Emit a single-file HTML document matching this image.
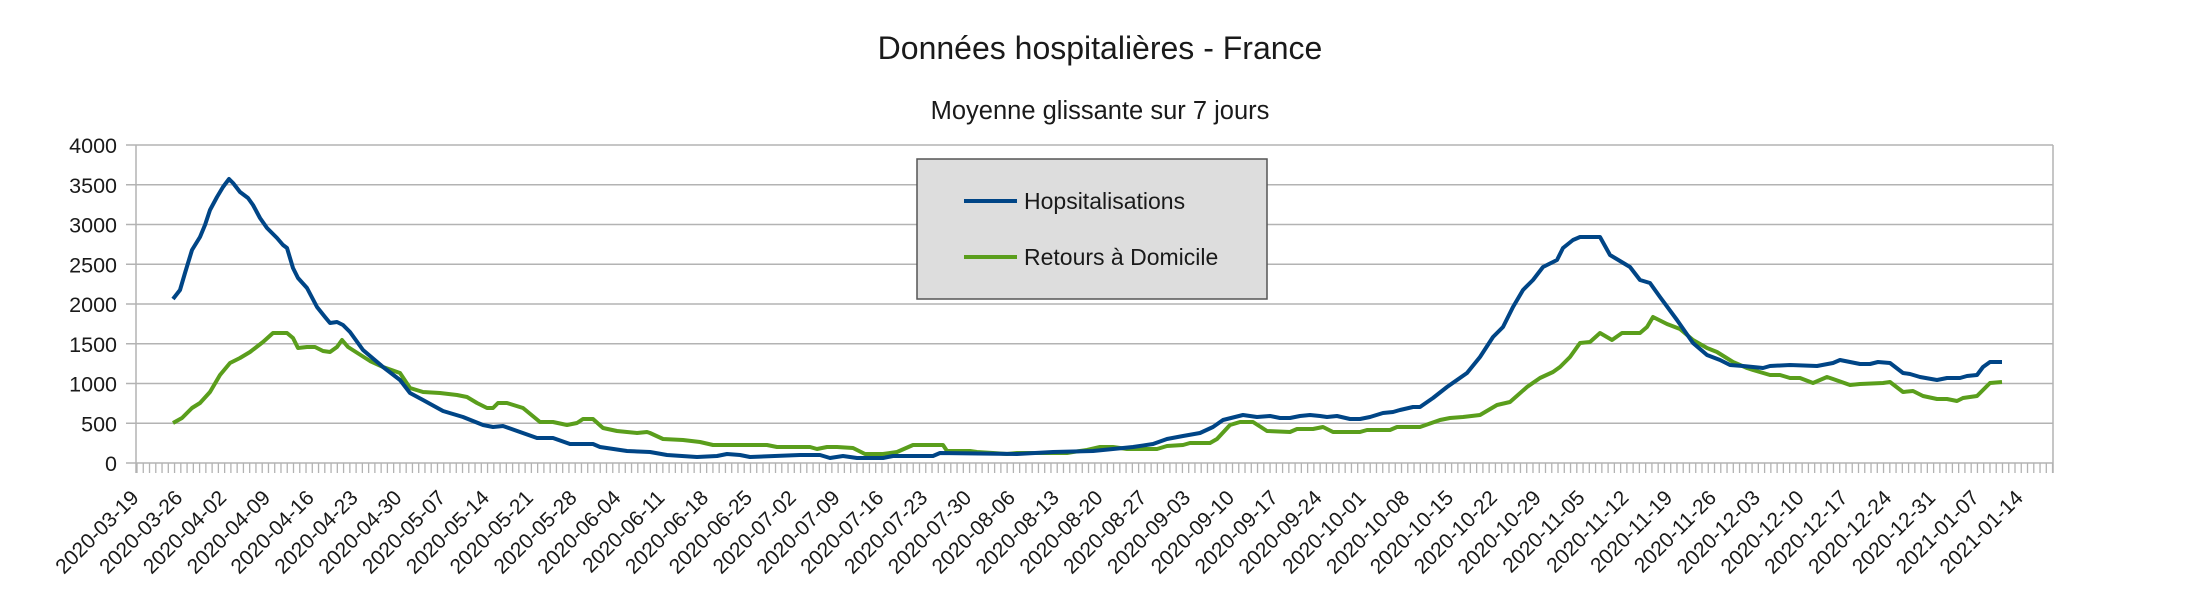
<!DOCTYPE html>
<html><head><meta charset="utf-8"><style>
html,body{margin:0;padding:0;background:#fff;}
svg{display:block;font-family:"Liberation Sans",sans-serif;}
</style></head><body>
<svg id="s" width="2200" height="605" viewBox="0 0 2200 605" xmlns="http://www.w3.org/2000/svg">
<rect width="2200" height="605" fill="#fff"/>
<text x="1100" y="59" font-size="32" text-anchor="middle" fill="#1a1a1a">Données hospitalières - France</text>
<text x="1100" y="119" font-size="25.5" text-anchor="middle" fill="#1a1a1a">Moyenne glissante sur 7 jours</text>
<g id="grid" stroke="#b3b3b3" stroke-width="1.5"></g>
<g id="ylab" font-size="21.5" fill="#1a1a1a" text-anchor="end"></g>
<g id="xt" stroke="#b3b3b3" stroke-width="1.3"></g>
<g id="xlab" font-size="21" fill="#1a1a1a" text-anchor="end"></g>
<polyline fill="none" stroke="#5a9e1c" stroke-width="4" stroke-linejoin="round" points="173,423 182,418 192,408 200,403 210,392 220,375 230,363 240,358 250,352 263,342 273,333 287,333 293,338 298,348 307,347 315,347 323,351 330,352 337,347 342,340 348,347 370,361 383,367 400,373 410,388 423,392 440,393 457,395 467,397 477,403 487,408 493,408 498,403 507,403 523,408 540,422 553,422 567,425 577,423 583,419 593,419 603,428 617,431 627,432 637,433 647,432 650,433 663,439 683,440 700,442 713,445 767,445 777,447 810,447 817,449 827,447 837,447 853,448 865,454 883,454 897,452 913,445 943,445 947,451 970,451 977,452 993,453 1007,454 1017,453 1053,453 1067,453 1073,452 1087,450 1100,447 1113,447 1127,449 1157,449 1167,446 1183,445 1190,443 1210,443 1217,439 1230,425 1240,422 1253,422 1267,431 1290,432 1297,429 1313,429 1323,427 1333,432 1360,432 1367,430 1390,430 1397,427 1420,427 1440,420 1450,418 1463,417 1480,415 1497,405 1510,402 1527,387 1540,378 1553,372 1560,367 1570,357 1580,343 1590,342 1600,333 1612,340 1622,333 1640,333 1647,327 1653,317 1667,324 1680,329 1693,340 1707,348 1717,352 1733,362 1747,368 1753,370 1770,375 1780,375 1790,378 1800,378 1813,383 1827,377 1833,379 1850,385 1860,384 1883,383 1890,382 1903,392 1913,391 1923,396 1937,399 1947,399 1957,401 1963,398 1977,396 1990,383 2002,382"/>
<polyline fill="none" stroke="#004586" stroke-width="4" stroke-linejoin="round" points="173,299 180,290 185,273 192,250 200,237 205,225 210,210 217,197 223,187 229,179 233,183 240,192 248,198 253,205 260,218 267,228 277,238 283,245 287,248 293,268 298,278 307,288 317,307 325,317 330,323 337,322 343,325 350,332 363,350 383,367 400,380 410,393 423,400 443,411 463,417 483,425 493,427 503,426 520,432 537,438 553,438 570,444 593,444 600,447 627,451 650,452 667,455 697,457 717,456 727,454 740,455 750,457 800,455 820,455 830,458 843,456 857,458 883,458 893,456 933,456 940,453 1017,454 1053,452 1093,451 1133,447 1153,444 1167,439 1183,436 1200,433 1213,427 1223,420 1243,415 1257,417 1270,416 1280,418 1290,418 1300,416 1310,415 1320,416 1327,417 1337,416 1350,419 1360,419 1370,417 1383,413 1393,412 1400,410 1413,407 1420,407 1433,398 1447,387 1467,373 1480,357 1493,337 1503,327 1513,307 1523,290 1533,280 1543,267 1557,260 1563,248 1573,240 1580,237 1600,237 1610,255 1620,261 1630,267 1640,280 1650,283 1660,297 1677,320 1693,343 1707,355 1720,360 1730,365 1743,366 1763,368 1770,366 1790,365 1817,366 1833,363 1840,360 1850,362 1860,364 1870,364 1878,362 1890,363 1903,373 1910,374 1920,377 1937,380 1947,378 1960,378 1967,376 1977,375 1983,367 1990,362 2002,362"/>
<rect x="917" y="159" width="350" height="140" fill="#dddddd" stroke="#555" stroke-width="1.5"/>
<line x1="964" y1="201" x2="1017" y2="201" stroke="#004586" stroke-width="4"/>
<line x1="964" y1="257" x2="1017" y2="257" stroke="#5a9e1c" stroke-width="4"/>
<text x="1024" y="209" font-size="23" fill="#1a1a1a">Hopsitalisations</text>
<text x="1024" y="265" font-size="23" fill="#1a1a1a">Retours à Domicile</text>
</svg>
<script>
(function(){
var ns="http://www.w3.org/2000/svg";
function el(p,t,a,txt){var e=document.createElementNS(ns,t);for(var k in a)e.setAttribute(k,a[k]);if(txt!=null)e.textContent=txt;document.getElementById(p).appendChild(e);}
var top=145,bot=463,L=136,R=2053;
for(var i=0;i<=8;i++){var y=bot-i*(bot-top)/8;
el("grid","line",{x1:126,y1:y,x2:R,y2:y});
el("ylab","text",{x:117,y:y+8},String(i*500));}
el("grid","line",{x1:L,y1:top,x2:L,y2:473});
el("grid","line",{x1:R,y1:top,x2:R,y2:473});
var step=6.26;
for(var d=0;;d++){var x=137+d*step;if(x>R+0.5)break;
el("xt","line",{x1:x,y1:463,x2:x,y2:473});}
var start=Date.UTC(2020,2,19);
for(var k=0;k<44;k++){var dt=new Date(start+k*7*86400000);
var s=dt.getUTCFullYear()+"-"+String(dt.getUTCMonth()+1).padStart(2,"0")+"-"+String(dt.getUTCDate()).padStart(2,"0");
var x=137+k*7*step+3,y=499;
el("xlab","text",{x:x,y:y,transform:"rotate(-45 "+x+" "+y+")"},s);}
})();
</script>
</body></html>
